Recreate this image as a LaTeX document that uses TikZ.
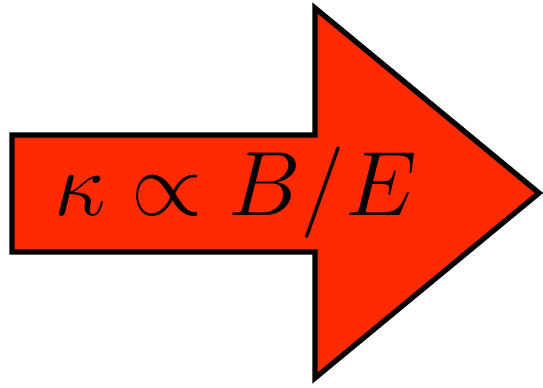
\documentclass[tikz,border=0pt]{standalone}
\usepackage{amsmath,amssymb}
\usepackage{xcolor}
\definecolor{arrowred}{RGB}{255,42,0}
\begin{document}
\begin{tikzpicture}[x=0.02cm,y=0.02cm]
\useasboundingbox (0,0) rectangle (543,387);
\coordinate (P1) at (12,252);
\coordinate (P2) at (315,252);
\coordinate (P3) at (315,379);
\coordinate (T) at (539,194);
\coordinate (P4) at (315,9);
\coordinate (P5) at (315,135);
\coordinate (P6) at (12,135);
\filldraw[fill=arrowred,line width=3pt,line join=miter] (P1)--(P2)--(P3)--(T)--(P4)--(P5)--(P6)--cycle;
\node[anchor=base,inner sep=0pt] (label) at (236,172) {\scalebox{2.09}{\Huge$\kappa \propto B/E$}};
\end{tikzpicture}
\end{document}
